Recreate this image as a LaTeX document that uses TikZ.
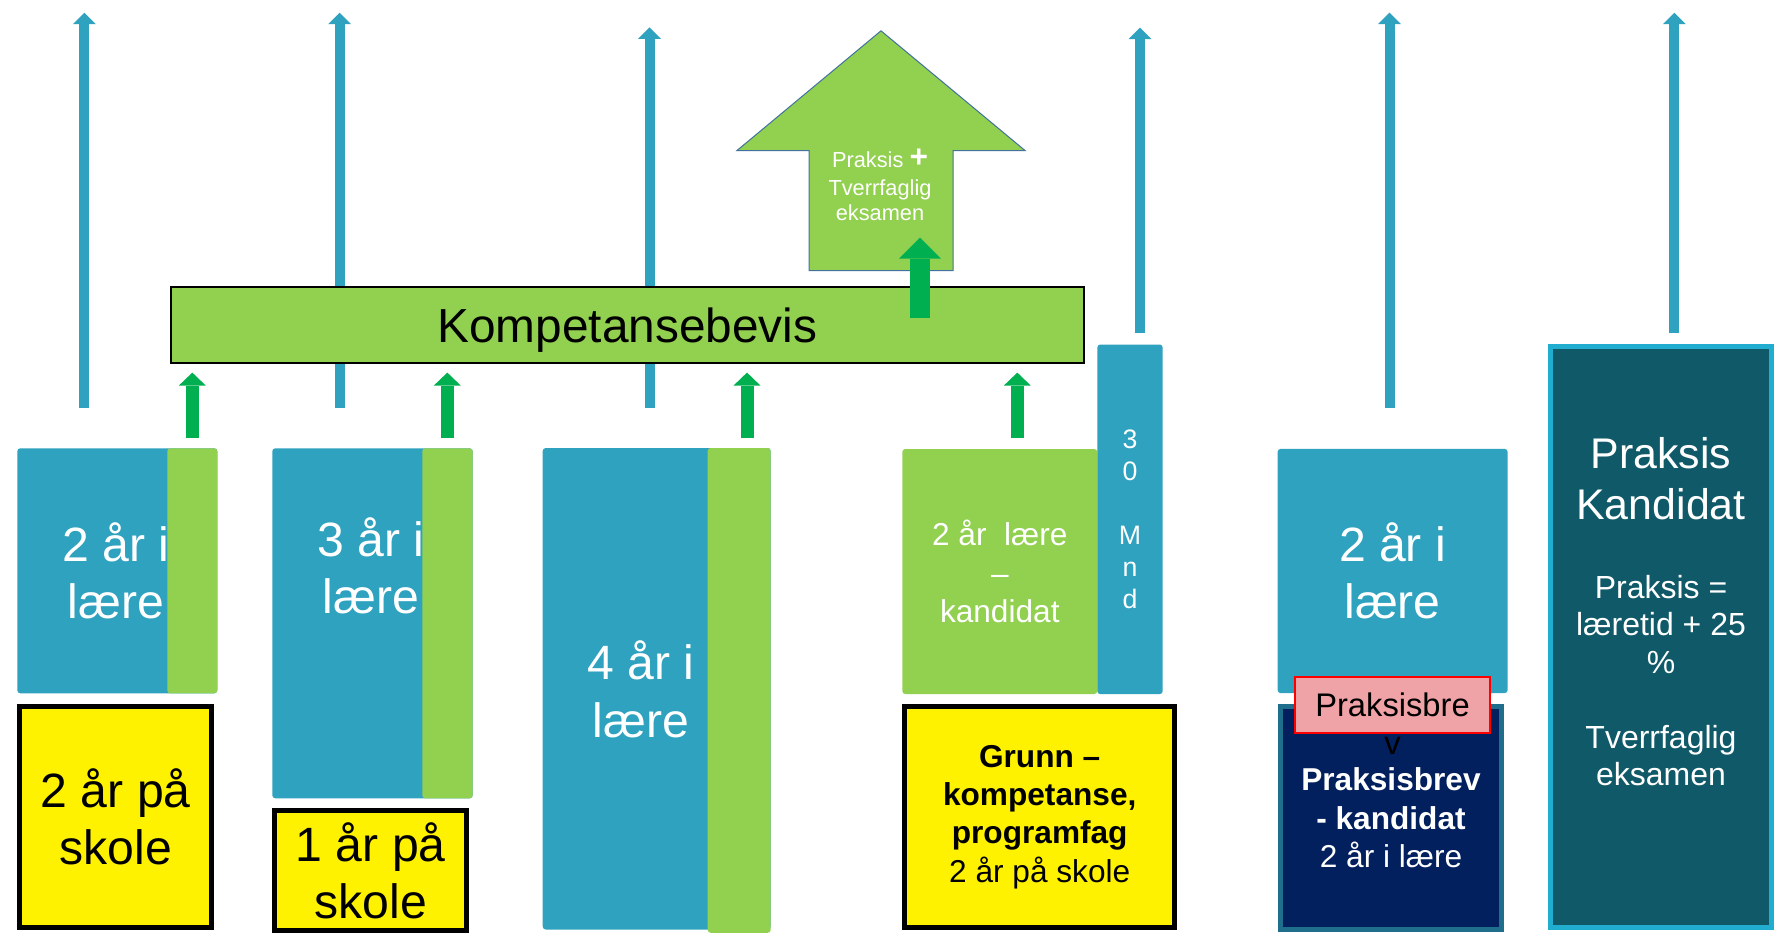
\documentclass[tikz,border=0pt]{standalone}
\usepackage{fontspec}
\setmainfont{Liberation Sans}
\usepackage{xcolor}
\usetikzlibrary{arrows.meta,positioning}

\definecolor{laereblue}{RGB}{46,162,191}
\definecolor{skolegreen}{RGB}{146,208,80}
\definecolor{arrowgreen}{RGB}{0,176,80}
\definecolor{navybox}{RGB}{2,31,94}
\definecolor{navyrim}{RGB}{31,110,139}
\definecolor{tealbox}{RGB}{16,89,104}
\definecolor{tealrim}{RGB}{33,173,208}
\definecolor{brevpink}{RGB}{240,163,166}
\definecolor{outlineblue}{RGB}{65,113,156}

\tikzset{
	lift/.style = {
			draw = laereblue,
			line width = 1mm,
			-{Triangle[width=2.3mm,length=1.15mm,line width=0pt]},
		},
	boost/.style = {
			draw = arrowgreen,
			line width = 1.3mm,
			-{Triangle[width=2.7mm,length=1.3mm,line width=0pt]},
		},
	laere/.style = {
			rectangle,
			fill          = laereblue,
			rounded corners = 0.3mm,
			inner sep     = 0pt,
			text          = white,
		},
	strip/.style = {
			rectangle,
			fill          = skolegreen,
			rounded corners = 0.3mm,
			inner sep     = 0pt,
		},
	skole/.style = {
			rectangle,
			draw          = black,
			line width    = 0.5mm,
			fill          = yellow,
			inner sep     = 0pt,
		},
	bigtext/.style = {font=\fontsize{13.7}{16.36}\selectfont, align=center, inner sep=0pt},
	midtext/.style = {font=\fontsize{9}{10.9}\selectfont, align=center, inner sep=0pt},
}

\begin{document}
\begin{tikzpicture}[x=0.1mm,y=-0.1mm]
	\useasboundingbox (0,0) rectangle (1787,937);

	% Lifts
	\coordinate (Lift1 foot) at (84.3,408.3);
	\coordinate (Lift1 top) at (84.3,12.7);
	\coordinate (Lift2 foot) at (339.7,408.3);
	\coordinate (Lift2 top) at (339.7,12.7);
	\coordinate (Lift3 foot) at (649.5,408.3);
	\coordinate (Lift3 top) at (649.5,27.3);
	\coordinate (Lift4 foot) at (1140,333.3);
	\coordinate (Lift4 top) at (1140,27.7);
	\coordinate (Lift5 foot) at (1389.5,408.3);
	\coordinate (Lift5 top) at (1389.5,12.7);
	\coordinate (Lift6 foot) at (1674.3,333.3);
	\coordinate (Lift6 top) at (1674.3,12.7);

	\draw[lift] (Lift1 foot) to (Lift1 top);
	\draw[lift] (Lift2 foot) to (Lift2 top);
	\draw[lift] (Lift3 foot) to (Lift3 top);
	\draw[lift] (Lift4 foot) to (Lift4 top);
	\draw[lift] (Lift5 foot) to (Lift5 top);
	\draw[lift] (Lift6 foot) to (Lift6 top);

	\node[draw=black, line width=0.2mm, fill=skolegreen, inner sep=0pt,
		minimum width=91.34mm, minimum height=7.63mm, text depth=0pt,
		font=\fontsize{13.6}{16}\selectfont] (Kompetansebevis) at (627.3,324.85)
	{Kompetansebevis};

	% Praksis arrow
	\draw[fill=skolegreen, draw=outlineblue, line width=0.1mm] (881,30.8) -- (1025,150.5)
	-- (953,150.5) -- (953,270.5) -- (809,270.5) -- (809,150.5) -- (737,150.5) -- cycle;
	\node[text=white, font=\fontsize{6.2}{7.1}\selectfont, align=center, inner sep=0pt]
	(Praksis pil) at (880,184.9)
	{Praksis {\fontsize{9}{9}\selectfont\textbf{+}}\\[0.33mm]Tverrfaglig\\eksamen};

	\coordinate (Pil foot) at (920,318.3);
	\coordinate (Pil top) at (920,237.7);
	\draw[draw=arrowgreen, line width=2mm,
		-{Triangle[width=4.2mm,length=2.1mm,line width=0pt]}] (Pil foot) to (Pil top);

	% Boosts
	\coordinate (Boost1 foot) at (192.3,438.4);
	\coordinate (Boost1 top) at (192.3,372.6);
	\coordinate (Boost2 foot) at (447.3,438.4);
	\coordinate (Boost2 top) at (447.3,372.6);
	\coordinate (Boost3 foot) at (747,438.4);
	\coordinate (Boost3 top) at (747,372.6);
	\coordinate (Boost4 foot) at (1017.3,438.4);
	\coordinate (Boost4 top) at (1017.3,372.6);

	\draw[boost] (Boost1 foot) to (Boost1 top);
	\draw[boost] (Boost2 foot) to (Boost2 top);
	\draw[boost] (Boost3 foot) to (Boost3 top);
	\draw[boost] (Boost4 foot) to (Boost4 top);

	% 2 years
	\node[laere, minimum width=20mm, minimum height=24.5mm] (Laere2) at (117.3,570.8) {};
	\node[bigtext, text=white] (Laere2 text) at (116,570.9) {2 år i\\lære};
	\node[strip, minimum width=5mm, minimum height=24.5mm] (Strip2) at (192.3,570.8) {};
	\node[skole, bigtext, minimum width=19.17mm, minimum height=22.1mm] (Skole2) at (115.7,817)
	{2 år på\\skole};

	% 3 years
	\node[laere, minimum width=20.04mm, minimum height=35mm] (Laere3) at (372.5,623.3) {};
	\node[bigtext, text=white] (Laere3 text) at (370.8,566) {3 år i\\lære};
	\node[strip, minimum width=5.04mm, minimum height=35mm] (Strip3) at (447.5,623.3) {};
	\node[skole, bigtext, minimum width=19.2mm, minimum height=12mm] (Skole1) at (370.8,870.8)
	{1 år på\\skole};

	% 4 years
	\node[laere, minimum width=22.8mm, minimum height=48.15mm] (Laere4) at (656.7,688.75) {};
	\node[bigtext, text=white] (Laere4 text) at (641,689.4) {4 år i\\lære};
	\node[strip, minimum width=6.3mm, minimum height=48.48mm] (Strip4) at (739.2,690.4) {};

	% Kandidat
	\node[strip, midtext, text=white, minimum width=19.5mm, minimum height=24.5mm]
	(Kandidat laere) at (999.8,571.5) {2 år\ \ lære\\–\\kandidat};
	\node[laere, align=center, font=\fontsize{7.6}{9.1}\selectfont,
		minimum width=6.54mm, minimum height=34.96mm] (Mnd) at (1130,519.3)
	{3\\0\\[9.1pt]M\\n\\d};
	\node[skole, midtext, minimum width=26.97mm, minimum height=22.14mm] (Grunn) at (1039.7,816.8)
	{\textbf{Grunn –}\\\textbf{kompetanse,}\\\textbf{programfag}\\2 år på skole};

	% Praksisbrev
	\node[laere, bigtext, minimum width=23mm, minimum height=24.42mm] (Laere brev) at (1392.6,571)
	{2 år i\\lære};
	\node[draw=navyrim, line width=0.5mm, fill=navybox, text=white, midtext,
		minimum width=22.19mm, minimum height=22.35mm] (Brev) at (1391,817.8)
	{\textbf{Praksisbrev}\\\textbf{- kandidat}\\2 år i lære};
	\node[draw=red, line width=0.2mm, fill=brevpink, inner sep=0pt, text depth=0pt,
		font=\fontsize{9.3}{11}\selectfont, minimum width=19.44mm, minimum height=5.63mm]
	(Brev tag) at (1392.5,704.9) {Praksisbre};
	\node[inner sep=0pt, font=\fontsize{9.3}{11}\selectfont, below=0.2mm of Brev tag]
	(Brev tail) {v};

	% Praksis Kandidat
	\node[draw=tealrim, line width=0.5mm, fill=tealbox,
		minimum width=22.13mm, minimum height=58.07mm] (Kandidat) at (1661.2,637.2) {};
	\node[text=white, font=\fontsize{12.2}{14.7}\selectfont, align=center, inner sep=0pt]
	(Kandidat title) at (1661,478.5) {Praksis\\Kandidat};
	\node[text=white, font=\fontsize{9.1}{10.67}\selectfont, align=center, inner sep=0pt]
	(Kandidat rule) at (1661,680.5)
	{Praksis =\\læretid + 25\\\%\\[3.75mm]Tverrfaglig\\eksamen};
\end{tikzpicture}
\end{document}
